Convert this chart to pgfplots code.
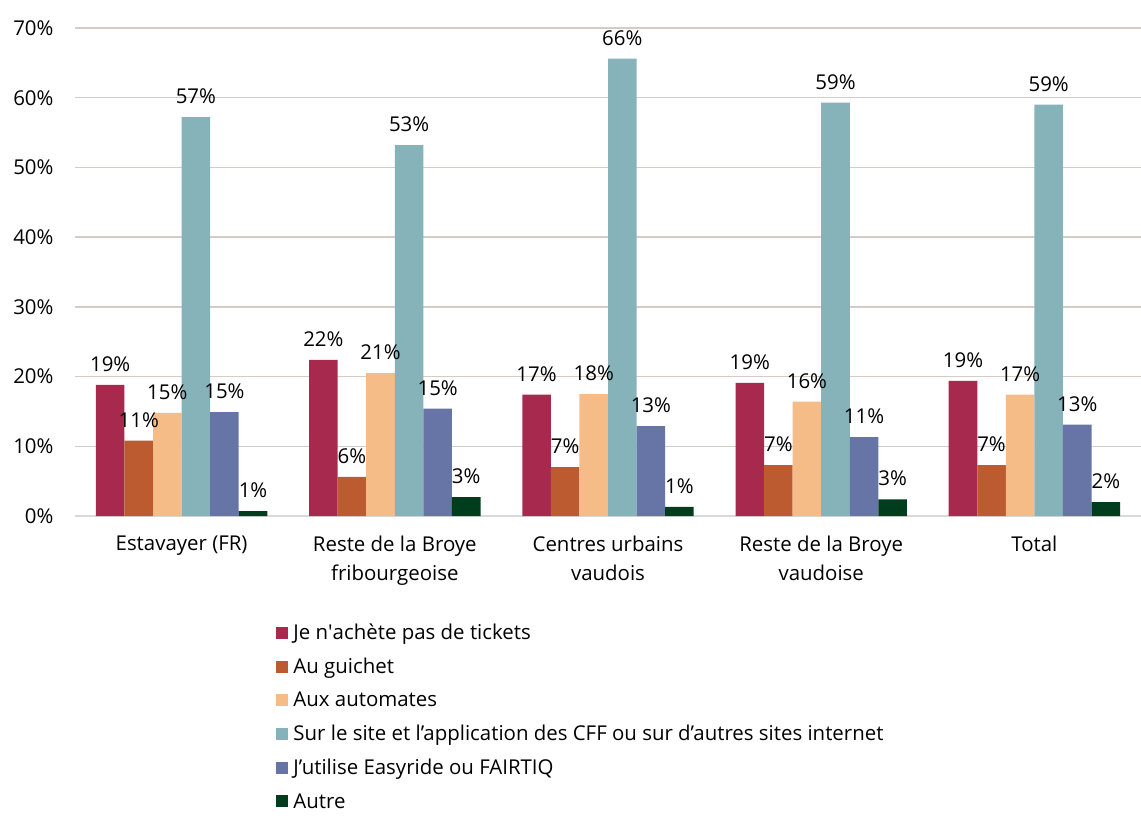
\documentclass[border=0pt]{standalone}
\usepackage{pgfplots}
\pgfplotsset{compat=1.18}
\usepackage{fontspec}
\setmainfont{Open Sans}[Ligatures={NoCommon}]
\definecolor{c1}{RGB}{167,41,78}
\definecolor{c2}{RGB}{188,90,48}
\definecolor{c3}{RGB}{245,188,136}
\definecolor{c4}{RGB}{134,179,185}
\definecolor{c5}{RGB}{102,117,166}
\definecolor{c6}{RGB}{0,61,30}
\definecolor{gridc}{RGB}{214,204,199}
\definecolor{basec}{RGB}{217,217,217}
\newcommand{\ff}{\fontsize{20.5}{24}\selectfont}
\begin{document}
\begin{tikzpicture}
\begin{axis}[name=ax, scale only axis, width=1066bp, height=488bp,
  xmin=-0.5, xmax=4.5, ymin=0, ymax=70,
  ybar=0pt, bar width=0.134,
  xtick={0,1,2,3,4},
  xticklabels={Estavayer (FR), Reste de la Broye\\fribourgeoise, Centres urbains\\vaudois, Reste de la Broye\\vaudoise, Total},
  xticklabel style={align=center, font=\fontsize{20.5}{29.5}\selectfont, yshift=-16bp},
  ytick={10,20,30,40,50,60,70},
  yticklabels={10\%,20\%,30\%,40\%,50\%,60\%,70\%},
  extra y ticks={0}, extra y tick labels={0\%},
  extra y tick style={grid style={draw=basec, line width=1.8bp}},
  ymajorgrids, grid style={draw=gridc, line width=1.5bp},
  major tick length=0pt,
  axis line style={draw=none},
  yticklabel style={font=\ff, xshift=-18bp},
  nodes near coords, point meta=explicit symbolic,
  every node near coord/.append style={font=\ff, anchor=south, inner sep=0pt, yshift=13bp, text=black},
  legend style={at={(0.186,-0.213)}, anchor=north west, draw=none, fill=none, font=\ff, row sep=13bp, legend cell align=left,
    nodes={inner xsep=5bp}},
  legend image code/.code={\fill[#1] (0bp,-6bp) rectangle (12bp,6bp);},
]
\addplot[fill=c1, draw=none] coordinates {(0,18.8) [19\%] (1,22.4) [22\%] (2,17.4) [17\%] (3,19.1) [19\%] (4,19.4) [19\%]};
\addplot[fill=c2, draw=none] coordinates {(0,10.8) [11\%] (1,5.6) [6\%] (2,7.0) [7\%] (3,7.3) [7\%] (4,7.3) [7\%]};
\addplot[fill=c3, draw=none] coordinates {(0,14.8) [15\%] (1,20.5) [21\%] (2,17.5) [18\%] (3,16.4) [16\%] (4,17.4) [17\%]};
\addplot[fill=c4, draw=none] coordinates {(0,57.2) [57\%] (1,53.2) [53\%] (2,65.6) [66\%] (3,59.3) [59\%] (4,59.0) [59\%]};
\addplot[fill=c5, draw=none] coordinates {(0,14.9) [15\%] (1,15.4) [15\%] (2,12.9) [13\%] (3,11.3) [11\%] (4,13.1) [13\%]};
\addplot[fill=c6, draw=none] coordinates {(0,0.7) [1\%] (1,2.7) [3\%] (2,1.3) [1\%] (3,2.4) [3\%] (4,2.0) [2\%]};
\legend{Je n\textquotesingle achète pas de tickets, Au guichet, Aux automates, Sur le site et l’application des CFF ou sur d’autres sites internet, J’utilise Easyride ou FAIRTIQ, Autre}
\end{axis}
\pgfresetboundingbox
\path ([xshift=-75bp,yshift=-302bp]ax.south west) rectangle ([yshift=28bp]ax.north east);
\end{tikzpicture}
\end{document}
